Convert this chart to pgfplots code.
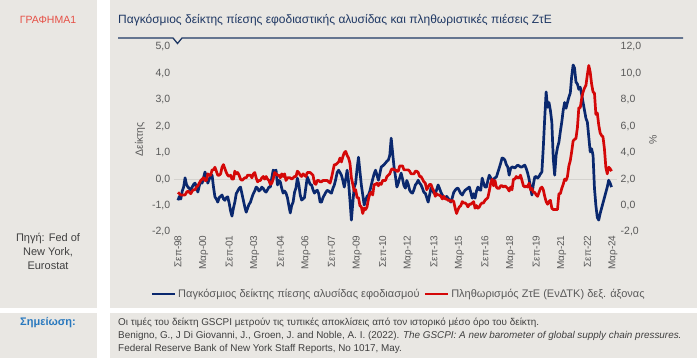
\documentclass[border=0pt]{standalone}
\usepackage{fontspec}
\setmainfont{Liberation Sans}
\usepackage{pgfplots}
\usepackage{pgfplotstable}
\pgfplotsset{compat=1.18}
\definecolor{bg}{RGB}{233,231,227}
\definecolor{navy}{RGB}{10,40,110}
\definecolor{redl}{RGB}{212,8,8}
\definecolor{titlec}{RGB}{31,56,100}
\definecolor{grafc}{RGB}{230,80,70}
\definecolor{notec}{RGB}{40,120,190}
\definecolor{txt}{RGB}{64,64,64}
\definecolor{tick}{RGB}{89,89,89}
\definecolor{zline}{RGB}{212,210,206}

% g = GSCPI (left axis), h = euro area HICP % (right axis); monthly from Sep 1998
\pgfplotstableread[row sep=\\]{
g h\\
-0.80 1.0\\ -0.65 0.9\\ -0.75 0.8\\ -0.45 0.8\\
-0.30 0.8\\ 0.05 0.8\\ -0.20 1.0\\ -0.30 1.1\\ -0.35 1.0\\ -0.42 0.9\\ -0.30 1.1\\ -0.20 1.2\\ -0.15 1.2\\ -0.30 1.4\\ -0.49 1.5\\ -0.25 1.7\\
-0.10 1.9\\ -0.15 2.0\\ 0.05 2.1\\ 0.27 1.9\\ 0.10 1.9\\ -0.15 2.4\\ 0.00 2.3\\ 0.10 2.3\\ 0.15 2.7\\ -0.30 2.7\\ -0.67 2.9\\ -0.75 2.6\\
-0.87 2.3\\ -0.70 2.3\\ -0.65 2.4\\ -0.60 2.9\\ -0.75 3.1\\ -0.80 2.8\\ -0.70 2.5\\ -0.67 2.3\\ -0.90 2.2\\ -1.20 2.3\\ -1.40 2.0\\ -1.10 2.0\\
-0.87 2.6\\ -0.55 2.4\\ -0.45 2.5\\ -0.35 2.3\\ -0.30 2.0\\ -0.55 1.9\\ -0.80 2.0\\ -1.05 2.1\\ -1.25 2.1\\ -1.10 2.3\\ -0.95 2.3\\ -0.87 2.3\\
-0.70 2.1\\ -0.55 2.4\\ -0.45 2.5\\ -0.30 2.1\\ -0.35 1.8\\ -0.45 1.9\\ -0.40 1.9\\ -0.30 2.1\\ -0.35 2.2\\ -0.45 2.0\\ -0.49 2.2\\ -0.40 2.0\\
-0.30 1.9\\ -0.30 1.6\\ 0.05 1.7\\ 0.34 2.0\\ 0.30 2.5\\ 0.34 2.4\\ -0.22 2.3\\ -0.05 2.3\\ -0.10 2.1\\ -0.35 2.4\\ -0.53 2.2\\ -0.45 2.4\\
-0.53 1.9\\ -0.70 2.1\\ -1.00 2.1\\ -1.28 2.1\\ -1.00 2.0\\ -0.87 2.1\\ -0.50 2.2\\ -0.34 2.2\\ 0.04 2.6\\ -0.20 2.5\\ -0.60 2.3\\ -0.79 2.2\\
-0.75 2.4\\ -0.70 2.3\\ -0.30 2.2\\ 0.08 2.5\\ -0.05 2.5\\ -0.20 2.5\\ -0.22 2.4\\ -0.40 2.3\\ -0.53 1.7\\ -0.45 1.6\\ -0.42 1.9\\ -0.55 1.9\\
-0.87 1.8\\ -0.87 1.8\\ -0.70 1.9\\ -0.60 1.9\\ -0.50 1.9\\ -0.42 1.9\\ -0.45 1.8\\ -0.50 1.7\\ -0.53 2.1\\ -0.35 2.6\\ -0.22 3.1\\ 0.00 3.1\\
0.25 3.2\\ 0.34 3.3\\ 0.25 3.6\\ 0.15 3.3\\ -0.05 3.7\\ -0.30 4.0\\ 0.00 4.1\\ 0.34 3.8\\ -0.10 3.6\\ -0.80 3.2\\ -1.55 2.1\\ -0.90 1.6\\
-0.30 1.1\\ -0.15 1.2\\ 0.40 0.6\\ 0.83 0.6\\ 0.30 0.0\\ -0.22 -0.1\\ -0.60 -0.6\\ -0.98 -0.2\\ -0.80 -0.3\\ -0.65 -0.1\\ -0.60 0.5\\ -0.45 0.9\\
-0.22 1.0\\ 0.00 0.8\\ 0.20 1.6\\ 0.34 1.6\\ 0.15 1.7\\ -0.04 1.5\\ 0.20 1.7\\ 0.46 1.6\\ 0.50 1.9\\ 0.55 1.9\\ 0.61 1.9\\ 0.68 2.2\\
0.72 2.3\\ 0.90 2.4\\ 1.55 2.7\\ 1.00 2.8\\ 0.46 2.7\\ 0.10 2.7\\ -0.30 2.6\\ -0.15 2.6\\ 0.05 3.0\\ 0.23 3.0\\ 0.00 3.0\\ -0.25 2.7\\
-0.34 2.7\\ -0.05 2.7\\ -0.20 2.7\\ -0.42 2.6\\ -0.50 2.4\\ -0.53 2.4\\ -0.40 2.4\\ -0.22 2.6\\ -0.15 2.6\\ -0.04 2.5\\ -0.15 2.2\\ -0.22 2.2\\
-0.35 2.0\\ -0.50 1.8\\ -0.53 1.7\\ -0.70 1.2\\ -0.87 1.4\\ -0.60 1.6\\ -0.34 1.6\\ -0.40 1.3\\ -0.53 1.1\\ -0.53 0.7\\ -0.40 0.9\\ -0.22 0.8\\
-0.35 0.8\\ -0.50 0.7\\ -0.60 0.5\\ -0.70 0.7\\ -0.72 0.5\\ -0.65 0.5\\ -0.72 0.4\\ -0.80 0.4\\ -0.87 0.3\\ -0.70 0.4\\ -0.50 0.3\\ -0.42 -0.2\\
-0.36 -0.6\\ -0.34 -0.3\\ -0.45 -0.1\\ -0.55 0.0\\ -0.60 0.3\\ -0.50 0.2\\ -0.42 0.2\\ -0.38 0.1\\ -0.34 -0.1\\ -0.30 0.1\\ -0.50 0.1\\ -0.72 0.2\\
-0.55 0.3\\ -0.72 -0.2\\ -0.45 0.0\\ -0.30 -0.2\\ -0.40 -0.1\\ -0.42 0.1\\ 0.04 0.2\\ -0.15 0.2\\ -0.30 0.4\\ -0.30 0.5\\ -0.05 0.6\\ 0.15 1.1\\
0.05 1.7\\ -0.04 2.0\\ 0.00 1.5\\ 0.05 1.9\\ 0.08 1.4\\ 0.25 1.3\\ 0.42 1.3\\ 0.60 1.5\\ 0.80 1.5\\ 0.78 1.4\\ 0.72 1.5\\ 0.55 1.4\\
0.46 1.3\\ 0.15 1.1\\ 0.40 1.4\\ 0.46 1.2\\ 0.45 2.0\\ 0.42 2.0\\ 0.48 2.2\\ 0.53 2.1\\ 0.50 2.1\\ 0.46 2.3\\ 0.46 1.9\\ 0.50 1.5\\
0.53 1.4\\ 0.40 1.5\\ 0.23 1.4\\ 0.00 1.7\\ -0.30 1.2\\ -0.60 1.3\\ -0.20 1.0\\ 0.08 1.0\\ 0.10 0.8\\ 0.04 0.7\\ 0.10 1.0\\ 0.20 1.3\\
0.27 1.4\\ 1.20 1.2\\ 2.30 0.7\\ 3.30 0.3\\ 2.72 0.1\\ 2.90 0.3\\ 2.60 0.4\\ 2.16 -0.2\\ 0.80 -0.3\\ 0.15 -0.3\\ 0.90 -0.3\\ 1.20 -0.3\\
1.40 0.9\\ 1.80 0.9\\ 2.16 1.3\\ 2.60 1.6\\ 2.90 2.0\\ 2.68 1.9\\ 2.90 2.2\\ 3.10 3.0\\ 3.26 3.4\\ 3.90 4.1\\ 4.32 4.9\\ 4.20 5.0\\
3.67 5.1\\ 3.60 5.9\\ 3.40 7.4\\ 3.48 7.4\\ 3.20 8.1\\ 2.90 8.6\\ 2.60 8.9\\ 2.30 9.1\\ 2.16 9.9\\ 1.60 10.6\\ 1.03 10.1\\ 1.15 9.2\\
0.90 8.6\\ -0.34 8.5\\ -1.00 6.9\\ -1.45 7.0\\ -1.55 6.1\\ -1.30 5.5\\ -1.10 5.3\\ -0.90 5.2\\ -0.70 4.3\\ -0.50 2.9\\ -0.30 2.4\\ -0.04 2.9\\
-0.15 2.8\\ -0.30 2.6\\
}\data

\pgfplotsset{
  base/.style={
    scale only axis, width=443.5pt, height=185pt,
    xmin=-3, xmax=309,
    at={(173.7pt,129pt)}, anchor=south west,
    axis line style={draw=none}, tick style={draw=none},
    tick label style={text=tick},
    /pgf/number format/.cd, fixed, fixed zerofill, precision=1, use comma, assume math mode=true,
  }
}

\begin{document}
\begin{tikzpicture}
\fill[white] (0pt,0pt) rectangle (700pt,361pt);
\fill[bg] (0pt,53pt) rectangle (97pt,361pt);
\fill[bg] (110pt,53pt) rectangle (697pt,361pt);
\fill[bg] (0pt,3pt) rectangle (97pt,48pt);
\fill[bg] (110pt,3pt) rectangle (697pt,48pt);

\node[anchor=base west, text=titlec, font=\fontsize{12}{14}\selectfont, inner sep=0pt] at (118pt,337pt)
  {Παγκόσμιος δείκτης πίεσης εφοδιαστικής αλυσίδας και πληθωριστικές πιέσεις ΖτΕ};
\draw[titlec, line width=1.3pt] (118pt,323pt) -- (173pt,323pt) -- (177.5pt,317.5pt) -- (182pt,323pt) -- (683pt,323pt);

\node[text=grafc, font=\fontsize{10.5}{12}\selectfont] at (48pt,341pt) {ΓΡΑΦΗΜΑ1};
\node[text=txt, align=center, font=\fontsize{11}{14}\selectfont] at (48pt,110pt) {Πηγή: Fed of\\New York,\\Eurostat};
\node[text=notec, font=\bfseries\fontsize{11}{13}\selectfont] at (48pt,38pt) {Σημείωση:};
\node[text=txt, anchor=north west, align=left, inner sep=0pt, font=\fontsize{9.9}{12.8}\selectfont] at (118pt,43pt)
  {Οι τιμές του δείκτη GSCPI μετρούν τις τυπικές αποκλίσεις από τον ιστορικό μέσο όρο του δείκτη.\\
   Benigno, G., J Di Giovanni, J., Groen, J. and Noble, A. I. (2022). \textit{The GSCPI: A new barometer of global supply chain pressures.}\\
   Federal Reserve Bank of New York Staff Reports, No 1017, May.};

\begin{axis}[base,
  ymin=-2, ymax=5, ytick={-2,-1,0,1,2,3,4,5},
  yticklabel style={font=\fontsize{10.5}{12}\selectfont},
  xtick={0,18,...,306},
  xticklabels={Σεπ-98,Μαρ-00,Σεπ-01,Μαρ-03,Σεπ-04,Μαρ-06,Σεπ-07,Μαρ-09,Σεπ-10,Μαρ-12,Σεπ-13,Μαρ-15,Σεπ-16,Μαρ-18,Σεπ-19,Μαρ-21,Σεπ-22,Μαρ-24},
  xticklabel style={rotate=90, anchor=east, font=\fontsize{10}{11}\selectfont},
  ylabel={Δείκτης}, ylabel style={at={(axis description cs:-0.076,0.5)}, anchor=center, text=tick, font=\fontsize{10.5}{12}\selectfont},
]
\draw[zline, line width=0.8pt] (axis cs:-3,0) -- (axis cs:309,0);
\addplot[navy, line width=2.7pt, line join=round] table[x expr=\coordindex, y=g] {\data};
\end{axis}

\begin{axis}[base,
  ymin=-2, ymax=12, ytick={-2,0,2,4,6,8,10,12},
  axis y line*=right, hide x axis,
  yticklabel style={font=\fontsize{10.5}{12}\selectfont},
  ylabel={\%}, ylabel style={at={(axis description cs:1.0805,0.5)}, anchor=center, text=tick, font=\fontsize{10.5}{12}\selectfont},
  legend style={at={(axis description cs:0.507,-0.335)}, anchor=center, draw=none, fill=none,
    legend columns=2, font=\fontsize{11}{13}\selectfont, text=tick,
    /tikz/every even column/.append style={column sep=2pt}},
  legend image code/.code={\draw[#1] (0pt,0pt) -- (23pt,0pt);},
]
\addlegendimage{navy, line width=2.7pt}
\addlegendentry{Παγκόσμιος δείκτης πίεσης αλυσίδας εφοδιασμού}
\addplot[redl, line width=2.7pt, line join=round] table[x expr=\coordindex, y=h] {\data};
\addlegendentry{Πληθωρισμός ΖτΕ (ΕνΔΤΚ) δεξ. άξονας}
\end{axis}
\end{tikzpicture}
\end{document}
